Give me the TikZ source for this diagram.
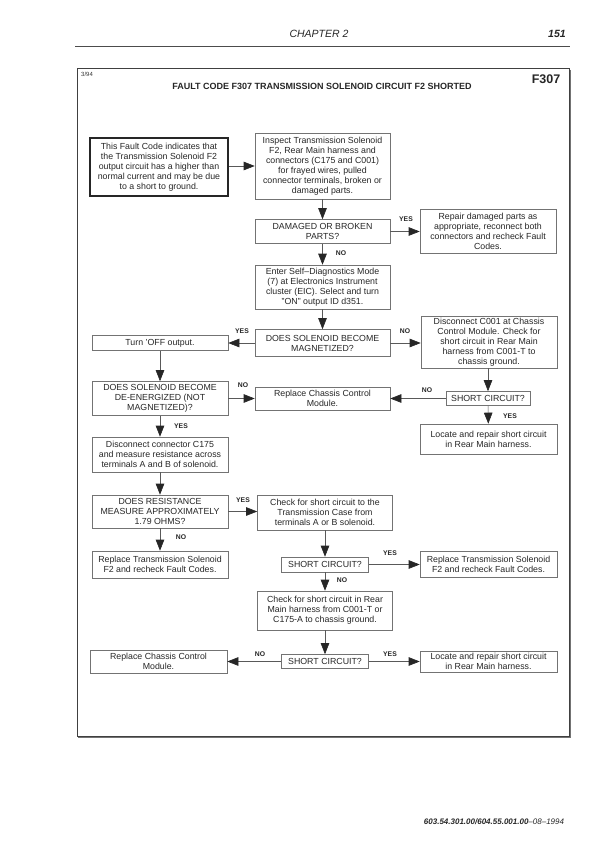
\documentclass[tikz,border=0pt]{standalone}
\usepackage{fontspec}
\setmainfont{Liberation Sans}
\usetikzlibrary{arrows.meta}
\begin{document}
\begin{tikzpicture}[x=1pt,y=-1pt,
  box/.style={draw=black!55, line width=0.6pt, align=center, inner sep=1pt,
    font=\fontsize{8.8}{10}\selectfont, text=black!85},
  thickbox/.style={box, draw=black!85, line width=2pt},
  arr/.style={draw=black!65, line width=0.6pt,
    -{Triangle[length=11pt,width=8.5pt,color=black!85]}},
  lbl/.style={font=\bfseries\fontsize{6.8}{7}\selectfont, text=black!85, inner sep=0pt},
]
\useasboundingbox (0,0) rectangle (612,867);
% header
\node[font=\itshape\fontsize{10.5}{12}\selectfont, text=black!85] (chap) at (319,34) {CHAPTER 2};
\node[font=\bfseries\itshape\fontsize{10.5}{12}\selectfont, text=black!85] (page) at (557,34) {151};
\draw[black!70, line width=1pt] (75,46.5) -- (570,46.5);
% frame
\draw[black!75, line width=1pt] (77,69) rectangle (569,736);
\draw[black!55, line width=0.8pt] (570.5,70) -- (570.5,737.5) -- (78,737.5);
\node[font=\fontsize{6}{7}\selectfont, text=black!80, anchor=north west, inner sep=0pt] (date) at (81,72) {3/94};
\node[font=\bfseries\fontsize{9}{10}\selectfont, text=black!85] (title) at (322,86) {FAULT CODE F307 TRANSMISSION SOLENOID CIRCUIT F2 SHORTED};
\node[font=\bfseries\fontsize{12.5}{14}\selectfont, text=black!85] (code) at (546,79) {F307};
% boxes
\node[thickbox, minimum width=138pt, minimum height=58pt] (b1) at (159,167) {This Fault Code indicates that\\the Transmission Solenoid F2\\output circuit has a higher than\\normal current and may be due\\to a short to ground.};
\node[box, minimum width=135pt, minimum height=66pt] (b2) at (322.5,166) {Inspect Transmission Solenoid\\F2, Rear Main harness and\\connectors (C175 and C001)\\for frayed wires, pulled\\connector terminals, broken or\\damaged parts.};
\node[box, minimum width=135pt, minimum height=24pt] (d1) at (322.5,231.5) {DAMAGED OR BROKEN\\PARTS?};
\node[box, minimum width=136pt, minimum height=44pt] (r1) at (488,231.5) {Repair damaged parts as\\appropriate, reconnect both\\connectors and recheck Fault\\Codes.};
\node[box, minimum width=135pt, minimum height=44pt] (b3) at (322.5,287) {Enter Self--Diagnostics Mode\\(7) at Electronics Instrument\\cluster (EIC). Select and turn\\"ON" output ID d351.};
\node[box, minimum width=135pt, minimum height=27pt] (d2) at (322.5,343) {DOES SOLENOID BECOME\\MAGNETIZED?};
\node[box, minimum width=136pt, minimum height=15pt] (t1) at (160,343) {Turn 'OFF output.};
\node[box, minimum width=136pt, minimum height=52pt] (c1) at (489,342) {Disconnect C001 at Chassis\\Control Module. Check for\\short circuit in Rear Main\\harness from C001-T to\\chassis ground.};
\node[box, minimum width=136pt, minimum height=34pt] (d3) at (160,398.5) {DOES SOLENOID BECOME\\DE-ENERGIZED (NOT\\MAGNETIZED)?};
\node[box, minimum width=135pt, minimum height=23pt] (rc1) at (322.5,398.5) {Replace Chassis Control\\Module.};
\node[box, minimum width=84pt, minimum height=14pt] (s1) at (488,398.5) {SHORT CIRCUIT?};
\node[box, minimum width=137pt, minimum height=30pt] (l1) at (488.5,439) {Locate and repair short circuit\\in Rear Main harness.};
\node[box, minimum width=136pt, minimum height=35pt] (dc) at (160,454.5) {Disconnect connector C175\\and measure resistance across\\terminals A and B of solenoid.};
\node[box, minimum width=136pt, minimum height=33pt] (d4) at (160,511.5) {DOES RESISTANCE\\MEASURE APPROXIMATELY\\1.79 OHMS?};
\node[box, minimum width=135pt, minimum height=35pt] (ch) at (325,512.5) {Check for short circuit to the\\Transmission Case from\\terminals A or B solenoid.};
\node[box, minimum width=136pt, minimum height=27pt] (rt1) at (160,564.5) {Replace Transmission Solenoid\\F2 and recheck Fault Codes.};
\node[box, minimum width=87pt, minimum height=15pt] (s2) at (325,564.5) {SHORT CIRCUIT?};
\node[box, minimum width=137pt, minimum height=26pt] (rt2) at (488.5,564.5) {Replace Transmission Solenoid\\F2 and recheck Fault Codes.};
\node[box, minimum width=135pt, minimum height=39pt] (cr) at (325,610.5) {Check for short circuit in Rear\\Main harness from C001-T or\\C175-A to chassis ground.};
\node[box, minimum width=137pt, minimum height=23pt] (rc2) at (158.5,661.5) {Replace Chassis Control\\Module.};
\node[box, minimum width=87pt, minimum height=14pt] (s3) at (325,661.5) {SHORT CIRCUIT?};
\node[box, minimum width=137pt, minimum height=21pt] (l2) at (488.5,661.5) {Locate and repair short circuit\\in Rear Main harness.};
% connectors
\draw[arr] (b1.east |- b2.west) -- (b2.west);
\draw[arr] (b2) -- (d1);
\draw[arr] (d1) -- (r1);
\draw[arr] (d1) -- (b3);
\draw[arr] (b3) -- (d2);
\draw[arr] (d2) -- (t1);
\draw[arr] (d2) -- (c1.west |- d2.east);
\draw[arr] (t1) -- (d3);
\draw[arr] (c1.south -| s1.north) -- (s1);
\draw[arr] (s1) -- (rc1);
\draw[arr] (d3) -- (rc1);
\draw[arr] (s1) -- (l1);
\draw[arr] (d3) -- (dc);
\draw[arr] (dc) -- (d4);
\draw[arr] (d4.east) -- (ch.west |- d4.east);
\draw[arr] (d4) -- (rt1);
\draw[arr] (ch) -- (s2);
\draw[arr] (s2) -- (rt2);
\draw[arr] (s2) -- (cr);
\draw[arr] (cr) -- (s3);
\draw[arr] (s3) -- (rc2);
\draw[arr] (s3) -- (l2);
% labels
\node[lbl] (y1) at (406,219) {YES};
\node[lbl] (n1) at (341,253) {NO};
\node[lbl] (y2) at (242,331) {YES};
\node[lbl] (n2) at (405,331) {NO};
\node[lbl] (n3) at (243,385) {NO};
\node[lbl] (n4) at (427,390) {NO};
\node[lbl] (y3) at (510,416) {YES};
\node[lbl] (y4) at (181,426) {YES};
\node[lbl] (y5) at (243,500) {YES};
\node[lbl] (n5) at (181,537) {NO};
\node[lbl] (y6) at (390,553) {YES};
\node[lbl] (n6) at (342,580) {NO};
\node[lbl] (n7) at (260,654) {NO};
\node[lbl] (y7) at (390,654) {YES};
% footer
\node[font=\fontsize{8}{9}\selectfont, text=black!85] (foot) at (494,822) {\bfseries\itshape 603.54.301.00/604.55.001.00\mdseries--08--1994};
\end{tikzpicture}
\end{document}
